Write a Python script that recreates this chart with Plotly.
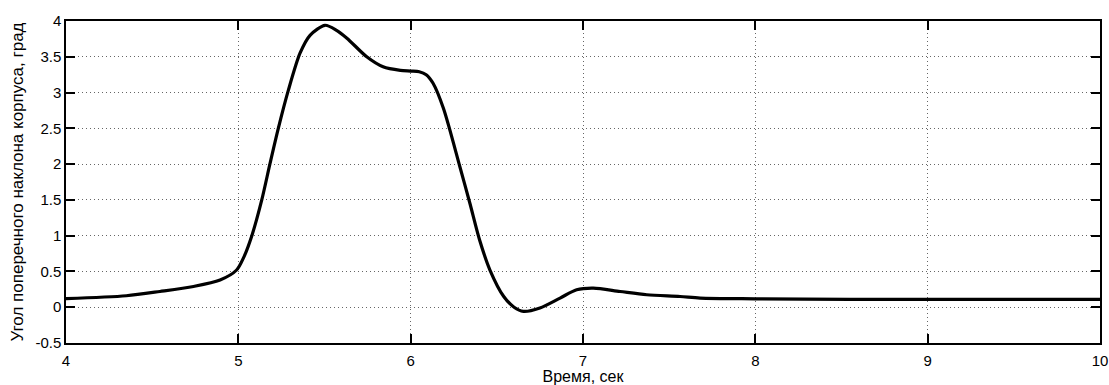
import plotly.graph_objects as go

time_s = [4.0, 4.35, 4.545, 4.74, 4.894, 4.99, 5.03, 5.077, 5.136, 5.184, 5.232, 5.29,
          5.358, 5.416, 5.503, 5.57, 5.63, 5.745, 5.84, 5.94, 6.0, 6.05, 6.09, 6.13, 6.19,
          6.286, 6.344, 6.40, 6.46, 6.54, 6.6, 6.654, 6.75, 6.867, 6.963, 7.06, 7.215,
          7.37, 7.563, 7.68, 8.0, 8.55, 9.0, 10.0]
angle_deg = [0.12, 0.16, 0.22, 0.29, 0.38, 0.52, 0.69, 0.99, 1.50, 2.01, 2.50, 3.03,
             3.55, 3.80, 3.94, 3.87, 3.76, 3.50, 3.36, 3.31, 3.30, 3.29, 3.25, 3.13, 2.78,
             1.96, 1.45, 0.94, 0.52, 0.15, 0.0, -0.058, -0.01, 0.128, 0.244, 0.267, 0.22,
             0.174, 0.15, 0.128, 0.118, 0.11, 0.11, 0.11]

x_ticks = [4, 5, 6, 7, 8, 9, 10]
y_ticks = [-0.5, 0, 0.5, 1, 1.5, 2, 2.5, 3, 3.5, 4]
y_tick_text = ["-0.5", "0", "0.5", "1", "1.5", "2", "2.5", "3", "3.5", "4"]

fig = go.Figure()
fig.add_trace(go.Scatter(x=time_s, y=angle_deg, mode="lines",
                         line=dict(color="black", width=3.2, shape="spline", smoothing=0.8),
                         showlegend=False))

fam = "Liberation Sans, Arial, sans-serif"
font = dict(family=fam, size=15, color="black")
axis_common = dict(showline=True, linecolor="black", linewidth=1.5, mirror="ticks",
                   ticks="inside", ticklen=9, tickwidth=1.5, tickcolor="black",
                   showgrid=True, gridcolor="rgba(0,0,0,0.6)", griddash="1px,3px", gridwidth=1,
                   zeroline=False, tickfont=font, automargin=False)

fig.update_xaxes(range=[4, 10], tickvals=x_ticks, ticktext=[str(t) for t in x_ticks],
                 ticklabelstandoff=3,
                 title=dict(text="Время, сек", font=dict(family=fam, size=16, color="black"), standoff=0),
                 **axis_common)
fig.update_yaxes(range=[-0.5, 4], tickvals=y_ticks, ticktext=y_tick_text,
                 title=dict(text="Угол поперечного наклона корпуса, град", font=dict(family=fam, size=17, color="black"), standoff=7),
                 **axis_common)

fig.update_layout(width=1109, height=385, margin=dict(l=66, r=9, t=21, b=42),
                  plot_bgcolor="white", paper_bgcolor="white", font=font)

fig.write_html("out.html")
